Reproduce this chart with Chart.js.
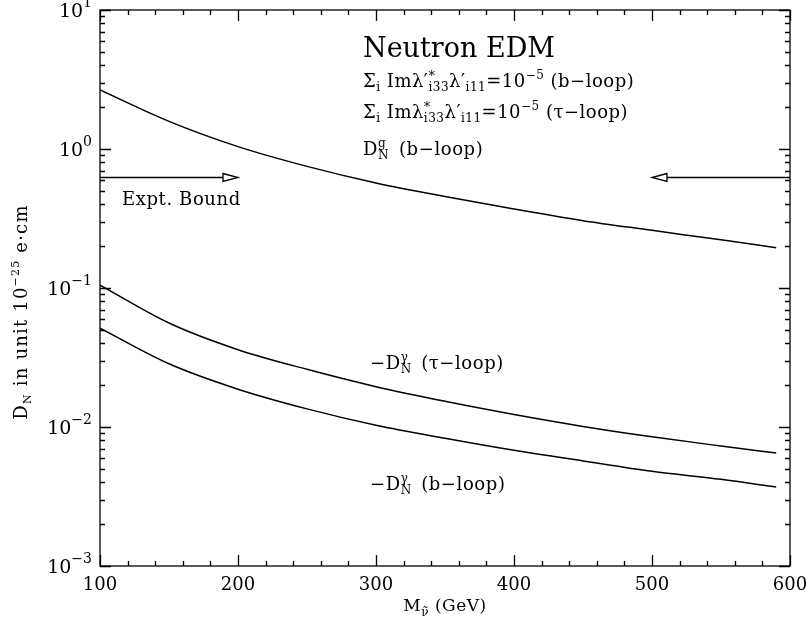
<!DOCTYPE html>
<html>
<head>
<meta charset="utf-8">
<script src="https://cdn.jsdelivr.net/npm/chart.js@4.4.1/dist/chart.umd.min.js"></script>
<style>
  html, body { margin: 0; padding: 0; background: #fff; }
</style>
</head>
<body>
<canvas id="myChart" width="806" height="627"></canvas>
<script>
// sneutrino mass (GeV)
const masses = [100, 150, 200, 250, 300, 350, 400, 450, 500, 550, 590];
// D_N^g (b-loop)
const gluonB = [2.66, 1.58, 1.04, 0.75, 0.57, 0.455, 0.37, 0.305, 0.26, 0.222, 0.195];
// -D_N^gamma (tau-loop)
const photonTau = [0.105, 0.056, 0.036, 0.026, 0.0195, 0.0153, 0.0123, 0.0101, 0.0085, 0.0073, 0.0065];
// -D_N^gamma (b-loop)
const photonB = [0.0515, 0.0285, 0.0187, 0.0135, 0.0103, 0.0083, 0.0068, 0.0057, 0.0048, 0.0042, 0.0037];

const xTickLabels = [100, 200, 300, 400, 500, 600];
const yTickExps = [1, 0, -1, -2, -3];
const exptBound = 0.63;
const leftArrow = [100, 200];
const rightArrow = [600, 500];

const FONT = '"DejaVu Serif", serif';

function pts(ys) {
    return masses.map((m, i) => ({x: m, y: ys[i]}));
}

// draws text made of pieces: [text, size, dy, advance]
function drawRich(ctx, x, y, parts, align, spacing) {
    ctx.letterSpacing = (spacing || 0) + 'px';
    let w = 0;
    parts.forEach(p => {
        ctx.font = p[1] + 'px ' + FONT;
        if (p[3] !== false) w += ctx.measureText(p[0]).width;
    });
    let cx = x;
    if (align === 'center') cx = x - w / 2;
    if (align === 'right') cx = x - w;
    ctx.textAlign = 'left';
    ctx.textBaseline = 'alphabetic';
    parts.forEach(p => {
        ctx.font = p[1] + 'px ' + FONT;
        ctx.fillText(p[0], cx, y + (p[2] || 0));
        if (p[3] !== false) cx += ctx.measureText(p[0]).width;
    });
    ctx.letterSpacing = '0px';
}

function arrow(ctx, x0, x1, yy) {
    let dir = x1 > x0 ? 1 : -1;
    let base = x1 - dir * 15;
    ctx.beginPath();
    ctx.moveTo(x0, yy);
    ctx.lineTo(base, yy);
    ctx.stroke();
    ctx.beginPath();
    ctx.moveTo(base, yy - 4);
    ctx.lineTo(x1, yy);
    ctx.lineTo(base, yy + 4);
    ctx.closePath();
    ctx.fillStyle = '#fff';
    ctx.fill();
    ctx.stroke();
}

const framePlugin = {
    id: 'frame',
    afterDraw(chart) {
        const ctx = chart.ctx;
        const a = chart.chartArea;
        const x = chart.scales.x;
        const y = chart.scales.y;
        ctx.save();
        ctx.strokeStyle = '#000';
        ctx.fillStyle = '#000';
        ctx.lineWidth = 1.3;
        ctx.strokeRect(a.left, a.top, a.right - a.left, a.bottom - a.top);

        // x ticks, inward on top and bottom
        ctx.beginPath();
        for (let v = 100; v <= 600; v += 20) {
            let px = Math.round(x.getPixelForValue(v)) + 0.5;
            let len = v % 100 === 0 ? 11 : 5;
            ctx.moveTo(px, a.bottom); ctx.lineTo(px, a.bottom - len);
            ctx.moveTo(px, a.top); ctx.lineTo(px, a.top + len);
        }
        // y ticks, inward on left and right
        for (let e = -3; e <= 1; e++) {
            for (let k = 1; k <= 9; k++) {
                if (e === 1 && k > 1) break;
                let py = Math.round(y.getPixelForValue(k * Math.pow(10, e))) + 0.5;
                let len = k === 1 ? 11 : 5;
                ctx.moveTo(a.left, py); ctx.lineTo(a.left + len, py);
                ctx.moveTo(a.right, py); ctx.lineTo(a.right - len, py);
            }
        }
        ctx.stroke();

        ctx.fillStyle = '#000';
        xTickLabels.forEach(v => {
            drawRich(ctx, x.getPixelForValue(v), a.bottom + 24, [[String(v), 18]], 'center');
        });
        yTickExps.forEach(e => {
            let py = y.getPixelForValue(Math.pow(10, e));
            let ex = e < 0 ? '\u2212' + (-e) : String(e);
            drawRich(ctx, a.left - 8, py + 7, [['10', 19], [ex, 14, -10]], 'right');
        });

        // axis titles
        drawRich(ctx, (a.left + a.right) / 2, a.bottom + 45,
            [['M', 17], ['\u03bd\u0303', 12, 5], [' (GeV)', 17]], 'center', 0.5);
        ctx.save();
        ctx.translate(27, 312);
        ctx.rotate(-Math.PI / 2);
        drawRich(ctx, 0, 0,
            [['D', 18], ['N', 11, 4], [' in unit 10', 18], ['\u221225', 11, -8], [' e\u00b7cm', 18]], 'center', 1.2);
        ctx.restore();

        // experimental bound arrows
        ctx.lineWidth = 1.3;
        ctx.strokeStyle = '#000';
        let yb = Math.round(y.getPixelForValue(exptBound)) + 0.5;
        arrow(ctx, x.getPixelForValue(leftArrow[0]), x.getPixelForValue(leftArrow[1]), yb);
        arrow(ctx, x.getPixelForValue(rightArrow[0]), x.getPixelForValue(rightArrow[1]), yb);
        ctx.fillStyle = '#000';
        drawRich(ctx, 122, yb + 27, [['Expt. Bound', 18]], 'left', 0.6);

        // annotations
        drawRich(ctx, 363, 57, [['Neutron EDM', 27]]);
        drawRich(ctx, 363, 87, [['\u03a3', 18], ['i', 12, 4], [' Im\u03bb\u2032', 18], ['*', 13, -7, false],
            ['i33', 12, 4], ['\u03bb\u2032', 18], ['i11', 12, 4], ['=10', 18], ['\u22125', 12, -8], [' (b\u2212loop)', 18]], 'left', 0.5);
        drawRich(ctx, 363, 118, [['\u03a3', 18], ['i', 12, 4], [' Im\u03bb', 18], ['*', 13, -7, false],
            ['i33', 12, 4], ['\u03bb\u2032', 18], ['i11', 12, 4], ['=10', 18], ['\u22125', 12, -8], [' (\u03c4\u2212loop)', 18]], 'left', 0.5);
        drawRich(ctx, 363, 155, [['D', 18], ['N', 12, 4, false], ['g', 12, -8], ['  (b\u2212loop)', 18]], 'left', 0.6);
        drawRich(ctx, 370, 369, [['\u2212D', 18], ['N', 12, 4, false], ['\u03b3', 12, -8], ['  (\u03c4\u2212loop)', 18]], 'left', 0.6);
        drawRich(ctx, 370, 490, [['\u2212D', 18], ['N', 12, 4, false], ['\u03b3', 12, -8], ['  (b\u2212loop)', 18]], 'left', 0.6);
        ctx.restore();
    }
};

function line(label, ys) {
    return {
        label: label,
        data: pts(ys),
        borderColor: '#000',
        borderWidth: 1.5,
        pointRadius: 0,
        fill: false,
        cubicInterpolationMode: 'monotone'
    };
}

let config = {
    type: 'line',
    data: {
        datasets: [
            line('D_N^g (b-loop)', gluonB),
            line('-D_N^gamma (tau-loop)', photonTau),
            line('-D_N^gamma (b-loop)', photonB)
        ]
    },
    options: {
        responsive: false,
        animation: false,
        devicePixelRatio: 1,
        layout: { padding: { top: 10, right: 16, left: 0, bottom: 0 } },
        plugins: { legend: { display: false }, tooltip: { enabled: false } },
        scales: {
            x: {
                type: 'linear', min: 100, max: 600,
                ticks: { display: false },
                grid: { display: false },
                border: { display: false },
                afterFit: (s) => { s.height = 61; }
            },
            y: {
                type: 'logarithmic', min: 0.001, max: 10,
                ticks: { display: false },
                grid: { display: false },
                border: { display: false },
                afterFit: (s) => { s.width = 100; }
            }
        }
    },
    plugins: [framePlugin]
};

let ctx = document.getElementById('myChart').getContext('2d');
var myChart = new Chart(ctx, config);
</script>
</body>
</html>
